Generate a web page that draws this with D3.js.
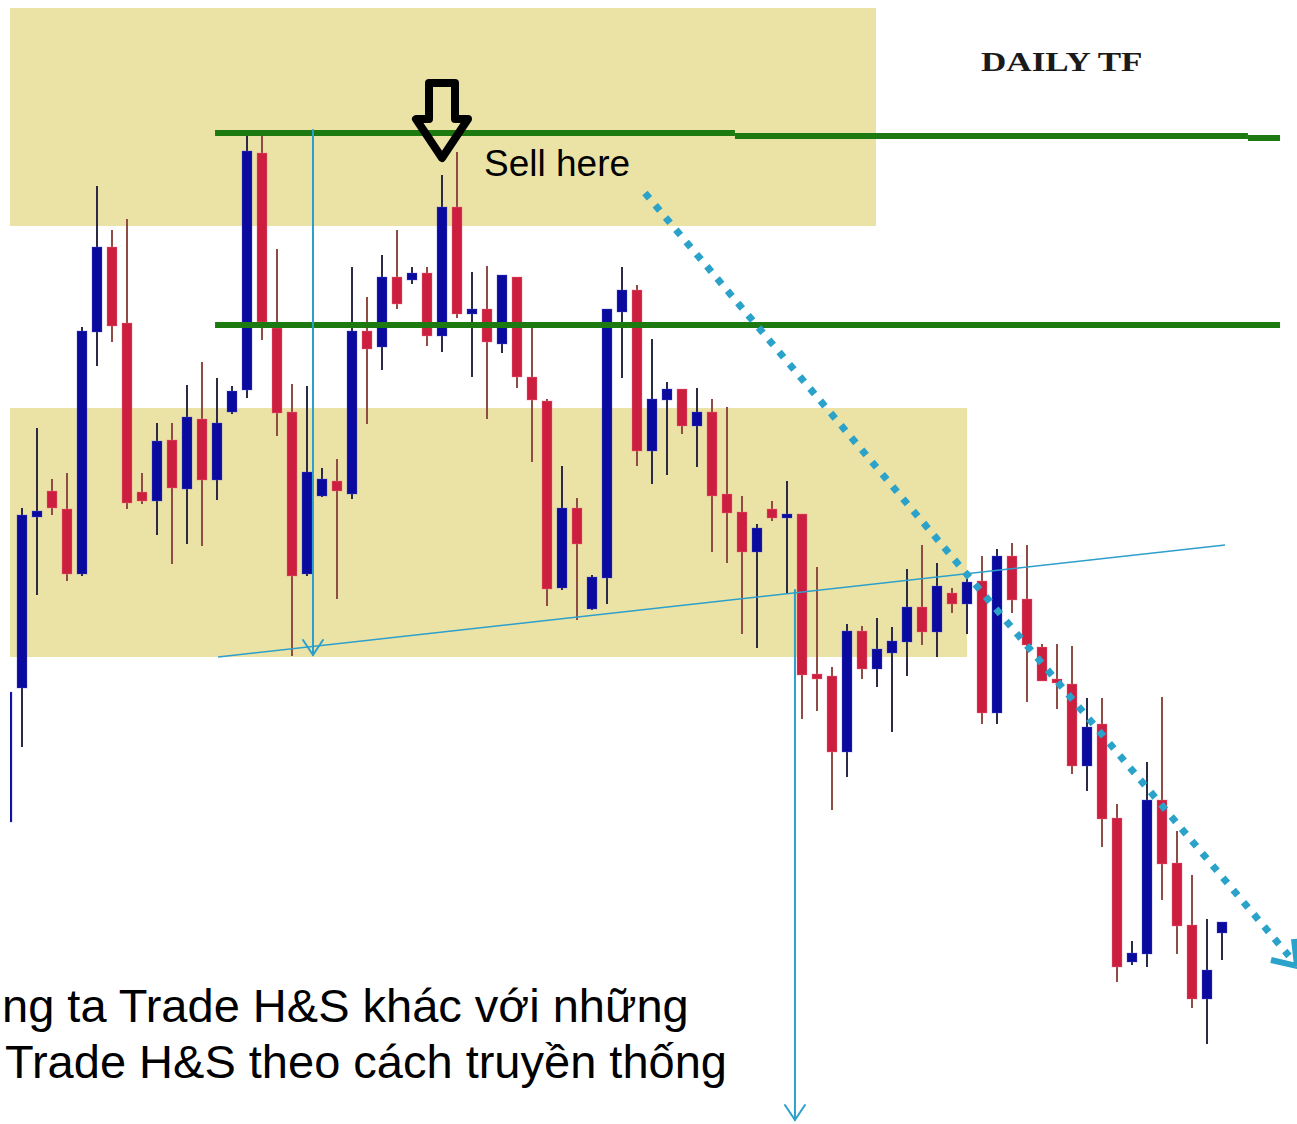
<!DOCTYPE html>
<html>
<head>
<meta charset="utf-8">
<script src="https://cdn.jsdelivr.net/npm/d3@7"></script>
<style>
  html, body { margin: 0; padding: 0; background: #ffffff; }
  svg { display: block; }
</style>
</head>
<body>
<svg id="chart" width="1297" height="1124"></svg>
<script>
// Daily candles (index 0 = oldest)
const open = [1.2302,1.2436,1.2607,1.2633,1.2615,1.2550,1.2792,1.2877,1.2801,1.2632,
  1.2623,1.2684,1.2635,1.2705,1.2644,1.2712,1.2734,1.2971,1.2796,1.2712,
  1.2550,1.2628,1.2643,1.2630,1.2793,1.2777,1.2847,1.2844,1.2851,1.2788,
  1.2917,1.2810,1.2815,1.2780,1.2847,1.2747,1.2723,1.2536,1.2616,1.2515,
  1.2546,1.2812,1.2834,1.2673,1.2724,1.2735,1.2698,1.2712,1.2630,1.2612,
  1.2572,1.2615,1.2606,1.2610,1.2450,1.2448,1.2372,1.2493,1.2455,1.2471,
  1.2482,1.2517,1.2492,1.2531,1.2520,1.2543,1.2411,1.2568,1.2525,1.2477,
  1.2445,1.2440,1.2358,1.2400,1.2306,1.2162,1.2170,1.2324,1.2261,1.2199,
  1.2125,1.2191];
const high = [1.2436,1.2616,1.2696,1.2645,1.2651,1.2797,1.2938,1.2894,1.2905,1.2651,
  1.2701,1.2701,1.2739,1.2762,1.2746,1.2738,1.2988,1.2988,1.2875,1.2740,
  1.2738,1.2656,1.2665,1.2857,1.2827,1.2869,1.2894,1.2857,1.2857,1.2949,
  1.2972,1.2852,1.2858,1.2849,1.2847,1.2796,1.2725,1.2658,1.2626,1.2549,
  1.2815,1.2857,1.2839,1.2785,1.2742,1.2735,1.2736,1.2725,1.2717,1.2628,
  1.2600,1.2623,1.2643,1.2610,1.2557,1.2457,1.2500,1.2498,1.2506,1.2497,
  1.2555,1.2579,1.2561,1.2536,1.2552,1.2568,1.2575,1.2581,1.2579,1.2480,
  1.2480,1.2478,1.2426,1.2426,1.2320,1.2183,1.2362,1.2427,1.2293,1.2249,
  1.2205,1.2202];
const low = [1.2298,1.2377,1.2529,1.2609,1.2543,1.2548,1.2758,1.2782,1.2615,1.2620,
  1.2589,1.2560,1.2580,1.2578,1.2624,1.2710,1.2726,1.2784,1.2688,1.2468,
  1.2548,1.2627,1.2525,1.2625,1.2700,1.2754,1.2815,1.2840,1.2778,1.2772,
  1.2806,1.2747,1.2705,1.2771,1.2736,1.2662,1.2518,1.2534,1.2504,1.2514,
  1.2520,1.2746,1.2658,1.2640,1.2649,1.2690,1.2657,1.2572,1.2561,1.2490,
  1.2476,1.2603,1.2530,1.2405,1.2413,1.2314,1.2347,1.2445,1.2437,1.2392,
  1.2448,1.2479,1.2467,1.2511,1.2490,1.2400,1.2400,1.2511,1.2422,1.2443,
  1.2415,1.2350,1.2333,1.2277,1.2142,1.2159,1.2157,1.2224,1.2170,1.2116,
  1.2080,1.2164];
const close = [1.2432,1.2609,1.2613,1.2616,1.2550,1.2793,1.2877,1.2798,1.2621,1.2623,
  1.2683,1.2636,1.2707,1.2644,1.2701,1.2733,1.2973,1.2802,1.2711,1.2548,
  1.2652,1.2645,1.2633,1.2793,1.2775,1.2847,1.2820,1.2851,1.2788,1.2917,
  1.2810,1.2815,1.2782,1.2849,1.2747,1.2724,1.2535,1.2616,1.2580,1.2547,
  1.2815,1.2834,1.2673,1.2725,1.2735,1.2698,1.2712,1.2628,1.2611,1.2572,
  1.2596,1.2606,1.2610,1.2449,1.2445,1.2372,1.2493,1.2455,1.2475,1.2483,
  1.2517,1.2492,1.2538,1.2520,1.2542,1.2411,1.2568,1.2524,1.2479,1.2443,
  1.2441,1.2358,1.2397,1.2305,1.2157,1.2171,1.2324,1.2260,1.2198,1.2125,
  1.2154,1.2202];

// Supply / demand zones: [fromIndex, toIndex, lowPrice, highPrice]
const zones = [[0.2, 57.93, 1.2898, 1.3116], [0.2, 64.0, 1.2467, 1.2716]];
// Horizontal resistance levels (segments): [fromIndex, toIndex, price]
const greenLevels = [[13.87, 48.53, 1.2991], [48.53, 82.73, 1.2988], [82.73, 84.87, 1.2986],
                     [13.87, 84.87, 1.2799]];
// Neckline and measured-move projections
const neckline = [[14.07, 1.2467], [81.2, 1.2579]];
const projections = [[20.4, 1.2994, 1.2469], [52.53, 1.2534, 1.2004]];
const trendline = [[42.53, 1.2931], [86.0, 1.2158]];
const sellSignal = { index: 29, price: 1.2966 };

const W = 1297, H = 1124;
const svg = d3.select("#chart");

const x = d3.scaleLinear().domain([0, 81]).range([7, 1222]);
const y = d3.scaleLinear().domain([1.2000, 1.3124]).range([1124, 0]);

const candles = open.map((o, i) => ({ i, o, h: high[i], l: low[i], c: close[i] }));

const ZONE = "#ebe3a6", GREEN = "#1d7a10", BLUE_LINE = "#2c9fcc", DOT = "#2aa2c9";
const BULL = "#0a0a9e", BEAR = "#cc1e3e", BULL_WICK = "#2b2b45", BEAR_WICK = "#8e4c44";

// zones
svg.append("g").selectAll("rect").data(zones).join("rect")
  .attr("x", d => x(d[0])).attr("width", d => x(d[1]) - x(d[0]))
  .attr("y", d => y(d[3])).attr("height", d => y(d[2]) - y(d[3]))
  .attr("fill", ZONE);

// candles, clipped at the left edge of the plot
svg.append("clipPath").attr("id", "plot").append("rect")
  .attr("x", x(0.2)).attr("y", 0).attr("width", W).attr("height", H);
const cg = svg.append("g").attr("clip-path", "url(#plot)");
const bw = 10;
const cand = cg.selectAll("g").data(candles).join("g");
cand.append("line")
  .attr("x1", d => x(d.i)).attr("x2", d => x(d.i))
  .attr("y1", d => y(d.h)).attr("y2", d => y(d.l))
  .attr("stroke", d => d.c >= d.o ? BULL_WICK : BEAR_WICK)
  .attr("stroke-width", 2);
cand.append("rect")
  .attr("x", d => x(d.i) - bw / 2).attr("width", bw)
  .attr("y", d => y(Math.max(d.o, d.c)))
  .attr("height", d => Math.max(2, Math.abs(y(d.o) - y(d.c))))
  .attr("fill", d => d.c >= d.o ? BULL : BEAR)
  .attr("stroke", d => d.c >= d.o ? "rgba(90,90,220,0.35)" : "rgba(240,120,140,0.4)")
  .attr("stroke-width", 1);

// green levels
svg.append("g").selectAll("line").data(greenLevels).join("line")
  .attr("x1", d => x(d[0])).attr("x2", d => x(d[1]))
  .attr("y1", d => y(d[2])).attr("y2", d => y(d[2]))
  .attr("stroke", GREEN).attr("stroke-width", 6);

// neckline
svg.append("line")
  .attr("x1", x(neckline[0][0])).attr("y1", y(neckline[0][1]))
  .attr("x2", x(neckline[1][0])).attr("y2", y(neckline[1][1]))
  .attr("stroke", BLUE_LINE).attr("stroke-width", 1.6);

// measured-move projections with open arrowheads
const pg = svg.append("g").attr("fill", "none").attr("stroke", BLUE_LINE)
  .attr("stroke-width", 2).attr("stroke-linecap", "round");
projections.forEach(([i, p0, p1]) => {
  const px = x(i), yb = y(p1);
  pg.append("line").attr("x1", px).attr("x2", px).attr("y1", y(p0)).attr("y2", yb);
  pg.append("path").attr("d", `M${px - 10},${yb - 15}L${px},${yb}L${px + 10},${yb - 15}`);
});

// dotted trendline with arrowhead
const tx0 = x(trendline[0][0]), ty0 = y(trendline[0][1]);
const tx1 = x(trendline[1][0]), ty1 = y(trendline[1][1]);
svg.append("line")
  .attr("x1", tx0).attr("y1", ty0).attr("x2", tx1 - 8).attr("y2", ty1 - 10)
  .attr("stroke", DOT).attr("stroke-width", 7).attr("stroke-dasharray", "7,9");
svg.append("path")
  .attr("d", `M${tx1 - 26},${ty1 - 6}L${tx1},${ty1}L${tx1 - 3},${ty1 - 27}`)
  .attr("fill", "none").attr("stroke", DOT).attr("stroke-width", 6)
  .attr("stroke-linejoin", "miter");

// sell arrow
const ax = x(sellSignal.index), ay = y(sellSignal.price);
svg.append("path")
  .attr("d", `M${ax - 13},${ay - 75}L${ax + 13},${ay - 75}L${ax + 13},${ay - 39}L${ax + 26},${ay - 39}` +
             `L${ax},${ay}L${ax - 26},${ay - 39}L${ax - 13},${ay - 39}Z`)
  .attr("fill", "none").attr("stroke", "#000").attr("stroke-width", 8)
  .attr("stroke-linejoin", "round");

// labels
svg.append("text").attr("x", 484).attr("y", 176)
  .attr("font-family", "Liberation Sans, Arial, sans-serif").attr("font-size", 37)
  .attr("fill", "#000").text("Sell here");
svg.append("text")
  .attr("transform", "translate(981,71) scale(1.3,1)")
  .attr("font-family", "Liberation Serif, Times New Roman, serif").attr("font-size", 27)
  .attr("font-weight", "bold").attr("fill", "#1a1a1a").text("DAILY TF");
const note = svg.append("g")
  .attr("font-family", "Liberation Sans, Arial, sans-serif").attr("font-size", 47).attr("fill", "#000");
note.append("text").attr("x", 2).attr("y", 1022).text("ng ta Trade H&S khác với những");
note.append("text").attr("x", 5).attr("y", 1078).text("Trade H&S theo cách truyền thống");
</script>
</body>
</html>
